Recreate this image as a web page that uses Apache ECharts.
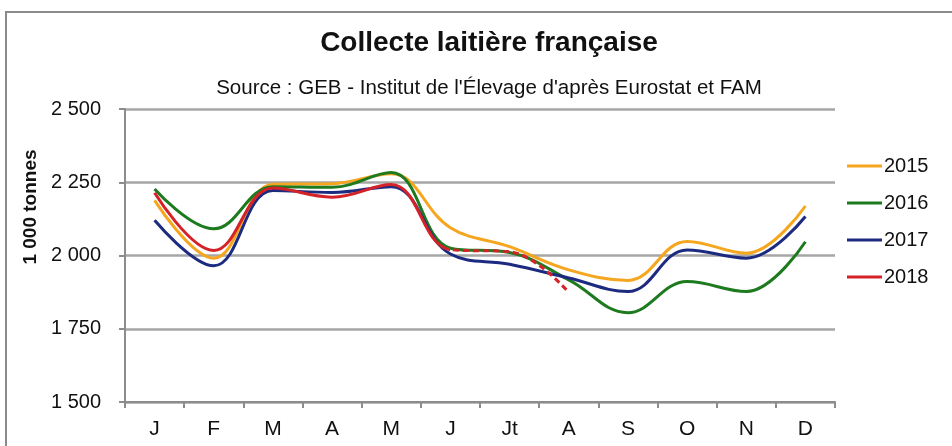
<!DOCTYPE html>
<html>
<head>
<meta charset="utf-8">
<script src="https://cdn.jsdelivr.net/npm/echarts@6/dist/echarts.min.js"></script>
<style>html,body{margin:0;padding:0;background:#fff;}#c{width:952px;height:446px;}</style>
</head>
<body>
<div id="c"></div>
<script>
const months = ['J','F','M','A','M','J','Jt','A','S','O','N','D'];
const s2015 = [2188, 1991, 2243, 2245, 2279, 2095, 2030, 1951, 1915, 2048, 2008, 2169];
const s2016 = [2227, 2091, 2235, 2233, 2283, 2025, 2010, 1917, 1805, 1911, 1877, 2047];
const s2017 = [2120, 1965, 2222, 2215, 2235, 2005, 1970, 1923, 1877, 2019, 1991, 2133];
const s2018 = [2214, 2017, 2230, 2199, 2242, 2020, 2013, 1874];
const estimateFromIndex = 5; // 2018 values after June drawn dashed (estimates)
const yTicks = [1500, 1750, 2000, 2250, 2500];
const yTickLabels = ['1 500', '1 750', '2 000', '2 250', '2 500'];
const seriesNames = ['2015', '2016', '2017', '2018'];
const colors = ['#F5A61E', '#1E7A1E', '#1C2A80', '#D42228'];

const FONT = "'Liberation Sans', Arial, sans-serif";
const W = 952;
const chart = echarts.init(document.getElementById('c'), null, {renderer: 'canvas'});
const SMOOTH = 0.4;
const lineSeries = (name, data, color, dashed) => ({
  name: name, type: 'line', data: data, smooth: SMOOTH, symbol: 'none', connectNulls: false,
  lineStyle: {color: color, width: 3, type: dashed ? [6, 4] : 'solid'},
  itemStyle: {color: color}, z: dashed ? 3 : 2
});
const TRANSPARENT = 'rgba(0,0,0,0)';
chart.setOption({
  animation: false,
  backgroundColor: '#fff',
  textStyle: {fontFamily: FONT},
  graphic: [
    {type: 'rect', shape: {x: 6, y: 12, width: 1000, height: 500}, style: {fill: 'none', stroke: '#8a8a8a', lineWidth: 2}, z: 0},
    {type: 'text', x: 489, y: 43, style: {text: 'Collecte laitière française', font: "bold 28px 'Liberation Sans', Arial, sans-serif", fill: '#111', align: 'center', verticalAlign: 'middle'}},
    {type: 'text', x: 489, y: 88, style: {text: "Source : GEB - Institut de l'Élevage d'après Eurostat et FAM", font: "20.5px 'Liberation Sans', Arial, sans-serif", fill: '#111', align: 'center', verticalAlign: 'middle'}},
    {type: 'text', x: 31, y: 207, rotation: Math.PI / 2, style: {text: '1 000 tonnes', font: "bold 19px 'Liberation Sans', Arial, sans-serif", fill: '#111', align: 'center', verticalAlign: 'middle'}}
  ],
  grid: {left: 125, right: 117, top: 109, bottom: 44, containLabel: false},
  legend: {
    data: seriesNames.map((n, i) => ({name: n, itemStyle: {color: colors[i]}, lineStyle: {color: colors[i], width: 3}})),
    orient: 'vertical', left: 842, top: 151, icon: 'rect',
    itemWidth: 35, itemHeight: 3, itemGap: 17,
    textStyle: {fontSize: 20, color: '#111', fontFamily: FONT, padding: [0, 0, 0, -3]}
  },
  xAxis: {
    type: 'category', data: months, boundaryGap: true,
    axisLine: {lineStyle: {color: '#8c8c8c', width: 2}},
    axisTick: {show: true, interval: 0, length: 6, lineStyle: {color: '#8c8c8c', width: 2}},
    axisLabel: {fontSize: 21, color: '#111', margin: 17, interval: 0}
  },
  yAxis: {
    type: 'value', min: yTicks[0], max: yTicks[yTicks.length - 1], interval: 250,
    axisLine: {show: true, lineStyle: {color: '#8c8c8c', width: 2}},
    axisTick: {show: true, length: 6, lineStyle: {color: '#8c8c8c', width: 2}},
    axisLabel: {fontSize: 20, color: '#111', margin: 24,
      formatter: v => { const i = yTicks.indexOf(v); return i >= 0 ? yTickLabels[i] : ''; }},
    splitLine: {lineStyle: {color: '#a6a6a6', width: 2.5}}
  },
  series: [
    lineSeries('2015', s2015, colors[0]),
    lineSeries('2016', s2016, colors[1]),
    lineSeries('2017', s2017, colors[2]),
    lineSeries('2018', s2018, colors[3]),
    Object.assign(lineSeries('2018 estimation', s2018, colors[3], true), {legendHoverLink: false})
  ]
});
// Split the 2018 curve at June using the axis' own pixel position: solid before, dashed after.
const xSplit = chart.convertToPixel({xAxisIndex: 0}, estimateFromIndex);
const off = Math.min(Math.max(xSplit / W, 0), 1);
const grad = (before, after) => ({
  type: 'linear', x: 0, y: 0, x2: W, y2: 0, global: true,
  colorStops: [{offset: 0, color: before}, {offset: off, color: before}, {offset: off, color: after}, {offset: 1, color: after}]
});
chart.setOption({
  series: [{}, {}, {},
    {lineStyle: {color: grad(colors[3], TRANSPARENT)}},
    {lineStyle: {color: grad(TRANSPARENT, colors[3])}}
  ]
});
</script>
</body>
</html>
